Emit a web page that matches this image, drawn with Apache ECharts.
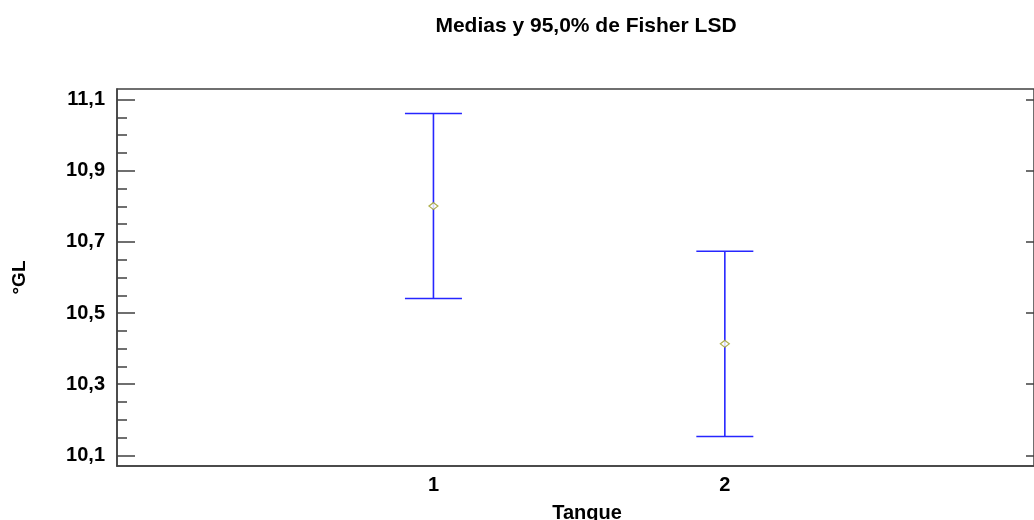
<!DOCTYPE html>
<html>
<head>
<meta charset="utf-8">
<script src="https://cdn.jsdelivr.net/npm/echarts@6/dist/echarts.min.js"></script>
<style>
html,body{margin:0;padding:0;background:#fff;}
#chart{width:1034px;height:520px;}
</style>
</head>
<body>
<div id="chart"></div>
<script>
var categories = [1, 2];
var means = [10.801, 10.4135];
var lower = [10.541, 10.153];
var upper = [11.061, 10.674];
var yMajorTicks = [10.1, 10.3, 10.5, 10.7, 10.9, 11.1];
var yMinorTicks = [10.15, 10.2, 10.25, 10.35, 10.4, 10.45, 10.55, 10.6, 10.65, 10.75, 10.8, 10.85, 10.95, 11.0, 11.05];
var titleText = 'Medias y 95,0% de Fisher LSD';
var xName = 'Tanque';
var yName = '°GL';

var FONT = '"Liberation Sans", Arial, sans-serif';
var chart = echarts.init(document.getElementById('chart'), null, {renderer: 'canvas'});

var barData = categories.map(function (c, i) { return [c, lower[i], upper[i]]; });
var meanData = categories.map(function (c, i) { return [c, means[i]]; });

var yRange = {min: 10.07, max: 11.13};
function fmt(v) { return String(Math.round(v * 10) / 10).replace('.', ','); }
var AX = '#404040';

var option = {
  animation: false,
  backgroundColor: '#ffffff',
  title: [
    {text: titleText, left: 581, top: 11, textAlign: 'center',
     textStyle: {fontFamily: FONT, fontWeight: 'bold', fontSize: 21, color: '#000'}},
    {text: xName, left: 582, top: 498, textAlign: 'center',
     textStyle: {fontFamily: FONT, fontWeight: 'bold', fontSize: 20, color: '#000'}}
  ],
  grid: {left: 117, right: -2, top: 89, bottom: 54, show: true, borderColor: AX, borderWidth: 1.5, backgroundColor: 'transparent'},
  xAxis: {
    type: 'value', min: -0.086, max: 3.061,
    axisLine: {show: true, onZero: false, lineStyle: {color: AX, width: 1.5}},
    axisTick: {show: false},
    splitLine: {show: false},
    axisLabel: {customValues: categories, margin: 9, fontFamily: FONT, fontWeight: 'bold', fontSize: 20, color: '#000',
      formatter: function (v) { return String(v); }}
  },
  yAxis: [
    {
      type: 'value', min: yRange.min, max: yRange.max, position: 'left',
      name: yName, nameLocation: 'middle', nameGap: 88, nameRotate: 90,
      nameTextStyle: {fontFamily: FONT, fontWeight: 'bold', fontSize: 19, color: '#000'},
      axisLine: {show: true, onZero: false, lineStyle: {color: AX, width: 1.5}},
      axisTick: {show: true, inside: true, length: 18, customValues: yMajorTicks, lineStyle: {color: AX, width: 1.5}},
      axisLabel: {customValues: yMajorTicks, margin: 12, fontFamily: FONT, fontWeight: 'bold', fontSize: 20, color: '#000', formatter: fmt},
      splitLine: {show: false}
    },
    {
      type: 'value', min: yRange.min, max: yRange.max, position: 'left',
      axisLine: {show: false, onZero: false},
      axisTick: {show: true, inside: true, length: 10, customValues: yMinorTicks, lineStyle: {color: AX, width: 1.5}},
      axisLabel: {show: false},
      splitLine: {show: false}
    },
    {
      type: 'value', min: yRange.min, max: yRange.max, position: 'right',
      axisLine: {show: false, onZero: false},
      axisTick: {show: true, inside: true, length: 8, customValues: yMajorTicks, lineStyle: {color: AX, width: 1.5}},
      axisLabel: {show: false},
      splitLine: {show: false}
    }
  ],
  series: [
    {
      type: 'custom',
      data: barData,
      renderItem: function (params, api) {
        var x = api.value(0);
        var lo = api.coord([x, api.value(1)]);
        var hi = api.coord([x, api.value(2)]);
        var hw = 28.5;
        var st = {stroke: '#2626ff', lineWidth: 1.6};
        return {
          type: 'group',
          children: [
            {type: 'line', shape: {x1: lo[0], y1: lo[1], x2: hi[0], y2: hi[1]}, style: st},
            {type: 'line', shape: {x1: lo[0] - hw, y1: lo[1], x2: lo[0] + hw, y2: lo[1]}, style: st},
            {type: 'line', shape: {x1: hi[0] - hw, y1: hi[1], x2: hi[0] + hw, y2: hi[1]}, style: st}
          ]
        };
      },
      z: 2
    },
    {
      type: 'scatter',
      data: meanData,
      symbol: 'diamond',
      symbolSize: [9, 7],
      itemStyle: {color: '#ffffff', borderColor: '#9c9c20', borderWidth: 1.2},
      z: 3
    }
  ]
};
chart.setOption(option);
</script>
</body>
</html>
